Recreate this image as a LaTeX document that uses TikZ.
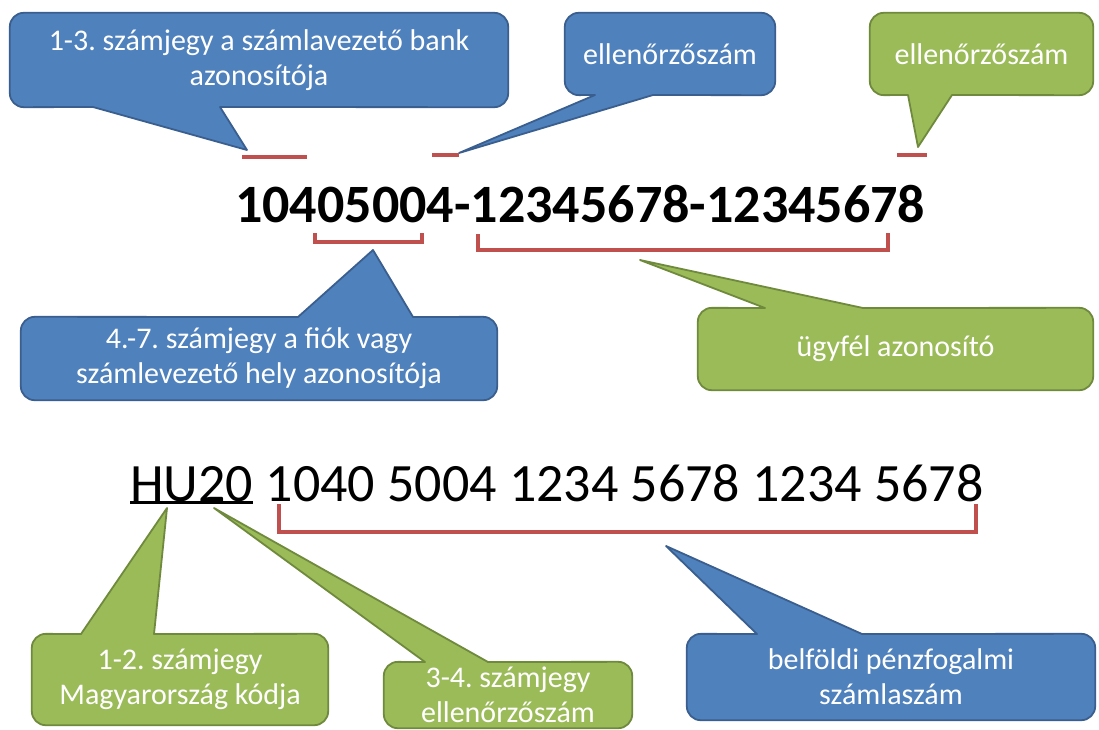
\documentclass[tikz,border=0pt]{standalone}
\usepackage{fontspec}
\setmainfont{Carlito}
\frenchspacing
\usetikzlibrary{positioning,backgrounds}
\definecolor{boxblue}{HTML}{4F81BD}
\definecolor{lineblue}{HTML}{3A5F8E}
\definecolor{boxgreen}{HTML}{9BBB59}
\definecolor{linegreen}{HTML}{6F8A3C}
\definecolor{markred}{HTML}{C0504D}
\tikzset{
  note/.style={text=white, font=\fontsize{30}{35}\selectfont, align=center, inner sep=0pt},
  bluecall/.style={fill=boxblue, draw=lineblue, line width=1.8pt, line join=round},
  greencall/.style={fill=boxgreen, draw=linegreen, line width=1.8pt, line join=round},
  redmark/.style={draw=markred, line width=3.5pt},
  digits/.style={inner sep=0pt, font=\fontsize{54}{60}\selectfont},
}
\begin{document}
\begin{tikzpicture}[x=1pt, y=-1pt]
\useasboundingbox (0,0) rectangle (1099,729);
% account numbers
\node[digits, font=\fontsize{54}{60}\bfseries, anchor=base west] (acct) at (235,222) {10405004-12345678-12345678};
\node[digits, anchor=base west] (cc) at (130,501) {HU20};
\node[digits, base right=12pt of cc] (iban) {1040 5004 1234 5678 1234 5678};
\draw[line width=3pt] ([yshift=-0.5pt]cc.south west) -- ([yshift=-0.5pt]cc.south east);
% red marks and brackets
\draw[redmark] (242,157) -- (307,157);
\draw[redmark] (432,155) -- (459,155);
\draw[redmark] (897,155) -- (927,155);
\draw[redmark] (315,233) -- (315,242) -- (422,242) -- (422,233);
\draw[redmark] (478,234) -- (478,250) -- (888,250) -- (888,233);
\draw[redmark] (279,504) -- (279,532) -- (976,532) -- (976,504);
% tips of the callouts
\coordinate (bankptr) at (247,150);
\coordinate (chkptr) at (459,153);
\coordinate (chkbptr) at (918,147);
\coordinate (branchptr) at (373,250);
\coordinate (custptr) at (640,260);
\coordinate (ccptr) at (167,508);
\coordinate (checkptr) at (214,508);
\coordinate (domptr) at (666,546);
% callout texts
\node[note, minimum width=498pt, minimum height=94pt] (bank) at (259,60) {1-3. számjegy a számlavezető bank\\azonosítója};
\node[note, minimum width=210pt, minimum height=82pt] (chk) at (670,54) {ellenőrzőszám};
\node[note, minimum width=223pt, minimum height=82pt] (chkb) at (981.5,54) {ellenőrzőszám};
\node[note, minimum width=476pt, minimum height=83pt] (branch) at (259,358.5) {4.-7. számjegy a fiók vagy\\számlevezető hely azonosítója};
\node[note, minimum width=395pt, minimum height=82pt] (cust) at (895.5,349) {ügyfél azonosító};
\node[note, minimum width=296pt, minimum height=91pt] (ccnote) at (180,679.5) {1-2. számjegy\\Magyarország kódja};
\node[note, minimum width=248pt, minimum height=66pt] (check) at (508,695) {3-4. számjegy\\ellenőrzőszám};
\node[note, minimum width=408pt, minimum height=86pt] (dom) at (891,677) {belföldi pénzfogalmi\\számlaszám};
% callout shapes
\begin{scope}[on background layer]
\fill[white] (0,0) rectangle (1099,729);
\draw[bluecall, rounded corners=14pt] (bank.north west) -- (bank.north east) -- (bank.south east) [sharp corners]
  -- (220,107) -- (bankptr) -- (93,107) [rounded corners=14pt] -- (bank.south west) -- cycle;
\draw[bluecall, rounded corners=14pt] (chk.north west) -- (chk.north east) -- (chk.south east) [sharp corners]
  -- (653,95) -- (chkptr) -- (595,95) [rounded corners=14pt] -- (chk.south west) -- cycle;
\draw[greencall, rounded corners=14pt] (chkb.north west) -- (chkb.north east) -- (chkb.south east) [sharp corners]
  -- (952,95) -- (chkbptr) -- (908,95) [rounded corners=14pt] -- (chkb.south west) -- cycle;
\draw[bluecall, rounded corners=14pt] (branch.south west) -- (branch.north west) [sharp corners]
  -- (298,317) -- (branchptr) -- (413,317) [rounded corners=14pt] -- (branch.north east) -- (branch.south east) -- cycle;
\draw[greencall, rounded corners=14pt] (cust.south west) -- (cust.north west) [sharp corners]
  -- (765,308) -- (custptr) -- (863,308) [rounded corners=14pt] -- (cust.north east) -- (cust.south east) -- cycle;
\draw[greencall, rounded corners=14pt] (ccnote.south west) -- (ccnote.north west) [sharp corners]
  -- (81,634) -- (ccptr) -- (154,634) [rounded corners=14pt] -- (ccnote.north east) -- (ccnote.south east) -- cycle;
\draw[greencall, rounded corners=14pt] (check.south west) -- (check.north west) [sharp corners]
  -- (425,662) -- (checkptr) -- (488,662) [rounded corners=14pt] -- (check.north east) -- (check.south east) -- cycle;
\draw[bluecall, rounded corners=14pt] (dom.south west) -- (dom.north west) [sharp corners]
  -- (757,634) -- (domptr) -- (862,634) [rounded corners=14pt] -- (dom.north east) -- (dom.south east) -- cycle;
\end{scope}
\end{tikzpicture}
\end{document}
